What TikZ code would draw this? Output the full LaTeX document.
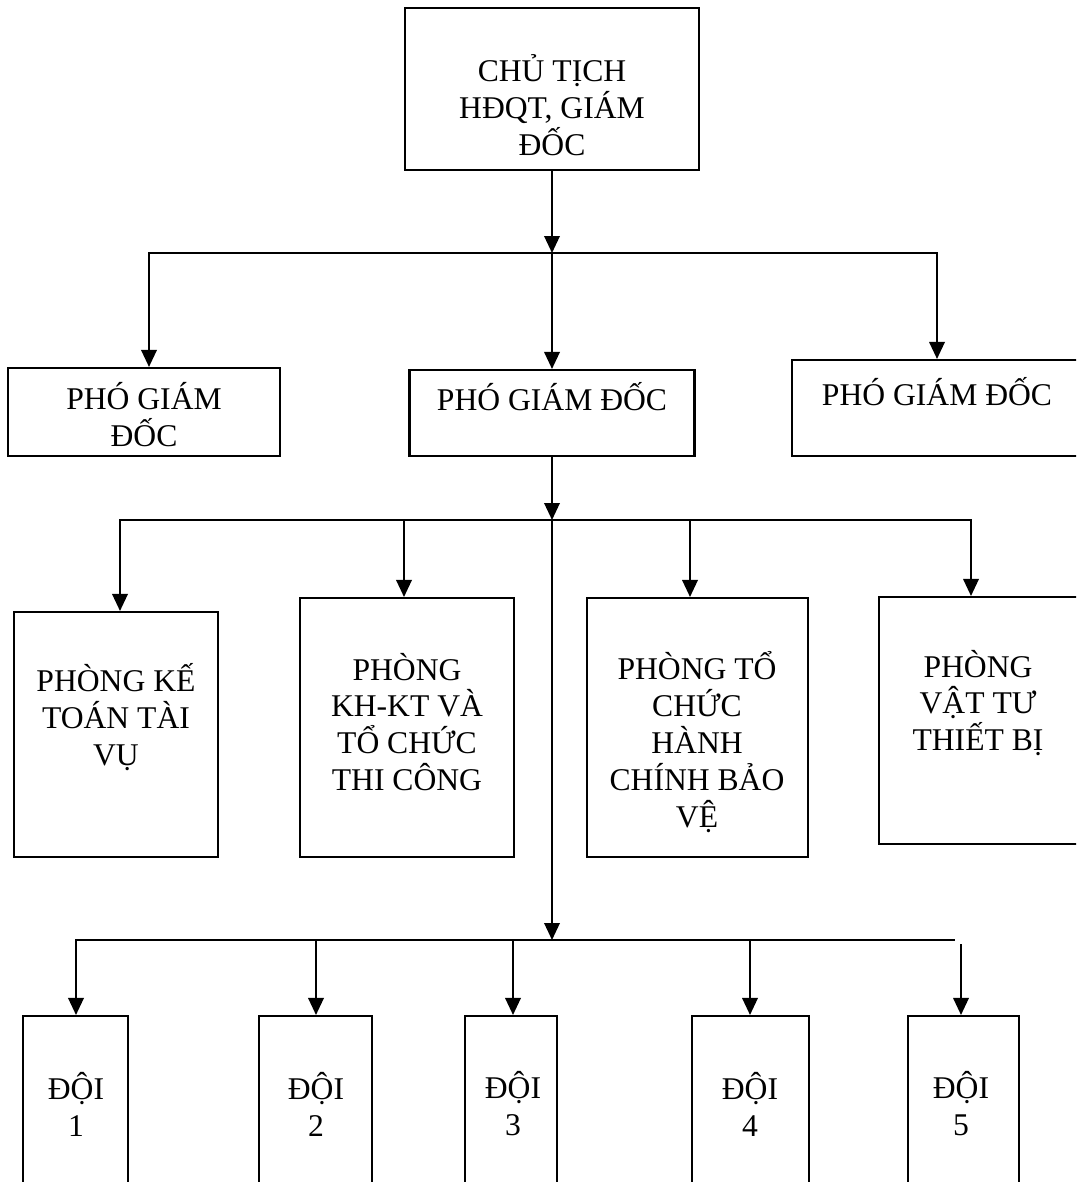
\documentclass[tikz,border=0pt]{standalone}
\usepackage{fontspec}
\setmainfont{Liberation Serif}
\usetikzlibrary{arrows.meta}

\begin{document}
\begin{tikzpicture}[x=0.02cm, y=-0.02cm,
    box/.style={draw, line width=1.2pt, inner sep=0pt},
    txt/.style={align=center, inner sep=0pt, font=\fontsize{18}{21}\selectfont},
    ln/.style={line width=1.1pt},
    arr/.style={line width=1.1pt, -{Triangle[length=0.34cm,width=0.31cm]}}]
    \useasboundingbox (0,0) rectangle (1076,1182);
    \clip (0,0) rectangle (1076,1182);

    \node[box, minimum width=5.88cm, minimum height=3.24cm] (chutich) at (552,89) {};
    \node[txt] (t-chutich) at (552,105) {CHỦ TỊCH\\HĐQT, GIÁM\\ĐỐC};

    \node[box, minimum width=5.44cm, minimum height=1.76cm] (pgd1) at (144,412) {};
    \node[box, minimum width=5.70cm, minimum height=1.72cm] (pgd2) at (552,413) {};
    \node[box, minimum width=5.80cm, minimum height=1.92cm] (pgd3) at (937,408) {};
    \node[txt] (t-pgd1) at (144,415) {PHÓ GIÁM\\ĐỐC};
    \node[txt] (t-pgd2) at (552,397) {PHÓ GIÁM ĐỐC};
    \node[txt] (t-pgd3) at (937,392) {PHÓ GIÁM ĐỐC};

    \node[box, minimum width=4.08cm, minimum height=4.90cm] (pkt) at (116,734.5) {};
    \node[box, minimum width=4.28cm, minimum height=5.18cm] (pkhkt) at (407,727.5) {};
    \node[box, minimum width=4.42cm, minimum height=5.18cm] (ptc) at (697.5,727.5) {};
    \node[box, minimum width=4.06cm, minimum height=4.94cm] (pvt) at (980.5,720.5) {};
    \node[txt] (t-pkt) at (116,717) {PHÒNG KẾ\\TOÁN TÀI\\VỤ};
    \node[txt] (t-pkhkt) at (407,722) {PHÒNG\\KH-KT VÀ\\TỔ CHỨC\\THI CÔNG};
    \node[txt] (t-ptc) at (697,742) {PHÒNG TỔ\\CHỨC\\HÀNH\\CHÍNH BẢO\\VỆ};
    \node[txt] (t-pvt) at (978,703) {PHÒNG\\VẬT TƯ\\THIẾT BỊ};

    \foreach \i/\c/\w/\t in {1/75.5/2.10/76, 2/315.5/2.26/316, 3/511/1.84/513, 4/750.5/2.34/750, 5/963.5/2.22/961} {
        \node[box, minimum width=\w cm, minimum height=3.68cm] (doi\i) at (\c,1108) {};
        \node[txt] (t-doi\i) at (\t,1104) {ĐỘI\\\i};
    }

    \coordinate (j1) at (552,253);
    \coordinate (b11) at (149,253);
    \coordinate (b13) at (937,253);
    \coordinate (j2) at (552,520);
    \coordinate (b21) at (120,520);
    \coordinate (b22) at (404,520);
    \coordinate (b23) at (690,520);
    \coordinate (b24) at (971,520);
    \coordinate (j3) at (552,940);
    \coordinate (b31) at (76,940);
    \coordinate (b32) at (316,940);
    \coordinate (b33) at (513,940);
    \coordinate (b34) at (750,940);
    \coordinate (e3) at (955,940);
    \coordinate (b35) at (961,944);

    \draw[arr] (chutich) -- (j1);
    \draw[arr] (j1) -- (b11) -- (b11 |- pgd1.north);
    \draw[arr] (j1) -- (b13) -- (b13 |- pgd3.north);
    \draw[arr] (j1) -- (j1 |- pgd2.north);

    \draw[arr] (pgd2.south -| j2) -- (j2);
    \draw[arr] (j2) -- (b21) -- (b21 |- pkt.north);
    \draw[arr] (j2) -- (b24) -- (b24 |- pvt.north);
    \draw[arr] (b22) -- (b22 |- pkhkt.north);
    \draw[arr] (b23) -- (b23 |- ptc.north);

    \draw[arr] (j2) -- (j3);
    \draw[arr] (j3) -- (b31) -- (b31 |- doi1.north);
    \draw[ln] (j3) -- (e3);
    \draw[arr] (b32) -- (b32 |- doi2.north);
    \draw[arr] (b33) -- (b33 |- doi3.north);
    \draw[arr] (b34) -- (b34 |- doi4.north);
    \draw[arr] (b35) -- (b35 |- doi5.north);
\end{tikzpicture}
\end{document}
